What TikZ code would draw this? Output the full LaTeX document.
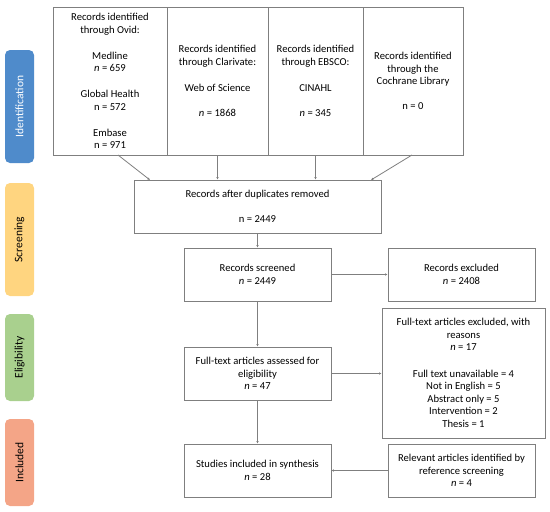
\documentclass[tikz,border=0pt]{standalone}
\usepackage{fontspec}
\setmainfont{Carlito}
\usetikzlibrary{arrows.meta}
\definecolor{boxline}{HTML}{7F7F7F}
\definecolor{idblue}{HTML}{4F8BCB}
\definecolor{scrorange}{HTML}{FFD580}
\definecolor{eligreen}{HTML}{A9D08E}
\definecolor{incsalmon}{HTML}{F4A587}
\tikzset{
  flowbox/.style={draw=boxline, line width=0.8pt, fill=white, align=center, inner sep=0pt,
    font=\fontsize{10.6}{12.6}\selectfont},
  phase/.style={rounded corners=5pt, draw=none, minimum width=29pt, inner sep=0pt,
    font=\fontsize{11.5}{13}\selectfont},
  conn/.style={draw=boxline, line width=0.8pt, -{Latex[length=2.5pt,width=2.5pt]}}
}
\begin{document}
\begin{tikzpicture}[x=1pt,y=-1pt]
\useasboundingbox (0,0) rectangle (550,512);
% phases
\node[phase, fill=idblue, minimum height=113pt, text=white] (pid) at (19.5,106.5) {\rotatebox{90}{Identification}};
\node[phase, fill=scrorange, minimum height=113pt] (pscr) at (19.5,239.5) {\rotatebox{90}{Screening}};
\node[phase, fill=eligreen, minimum height=87pt] (pel) at (19.5,357.5) {\rotatebox{90}{Eligibility}};
\node[phase, fill=incsalmon, minimum height=87pt] (pinc) at (19.5,462.5) {\rotatebox{90}{Included}};
% top boxes
\node[flowbox, minimum width=114pt, minimum height=148pt] (ovid) at (110,81)
  {Records identified\\through Ovid:\\[13.5pt]Medline\\\textit{n} = 659\\[13pt]Global Health\\n = 572\\[13.5pt]Embase\\n = 971};
\node[flowbox, minimum width=101pt, minimum height=148pt] (clar) at (217.5,81)
  {Records identified\\through Clarivate:\\[13.5pt]Web of Science\\[12.5pt]\textit{n} = 1868};
\node[flowbox, minimum width=95pt, minimum height=148pt] (ebsco) at (315.5,81)
  {Records identified\\through EBSCO:\\[13.5pt]CINAHL\\[12.5pt]\textit{n} = 345};
\node[flowbox, minimum width=100pt, minimum height=148pt] (coch) at (413,81)
  {Records identified\\through the\\Cochrane Library\\[12.5pt]n = 0};
% duplicates
\node[flowbox, minimum width=247pt, minimum height=53pt] (dup) at (257.5,206.5)
  {Records after duplicates removed\\[12.5pt]n = 2449};
\node[flowbox, minimum width=147pt, minimum height=53pt] (scr) at (257.5,274.5)
  {Records screened\\\textit{n} = 2449};
\node[flowbox, minimum width=147pt, minimum height=53pt] (exc) at (461.5,274.5)
  {Records excluded\\\textit{n} = 2408};
\node[flowbox, minimum width=163pt, minimum height=130pt] (ftex) at (463.5,373)
  {Full-text articles excluded, with\\reasons\\\textit{n} = 17\\[13.5pt]Full text unavailable = 4\\Not in English = 5\\Abstract only = 5\\Intervention = 2\\Thesis = 1};
\node[flowbox, minimum width=147pt, minimum height=53pt] (ass) at (257.5,373.5)
  {Full-text articles assessed for\\eligibility\\\textit{n} = 47};
\node[flowbox, minimum width=147pt, minimum height=53pt] (inc) at (257.5,470.5)
  {Studies included in synthesis\\\textit{n} = 28};
\node[flowbox, minimum width=147pt, minimum height=53pt] (rel) at (461.5,470.5)
  {Relevant articles identified by\\reference screening\\\textit{n} = 4};
% connectors
\coordinate (o1) at (118,155); \coordinate (d1) at (150,180);
\coordinate (o4) at (412,155); \coordinate (d4) at (371,180);
\draw[conn] (o1) -- (d1);
\draw[conn] (clar.south) -- (clar.south |- dup.north);
\draw[conn] (ebsco.south) -- (ebsco.south |- dup.north);
\draw[conn] (o4) -- (d4);
\draw[conn] (dup) -- (scr);
\draw[conn] (scr) -- (exc);
\draw[conn] (scr) -- (ass);
\draw[conn] (ass.east) -- (ass.east -| ftex.west);
\draw[conn] (ass) -- (inc);
\draw[conn] (rel) -- (inc);
\end{tikzpicture}
\end{document}
